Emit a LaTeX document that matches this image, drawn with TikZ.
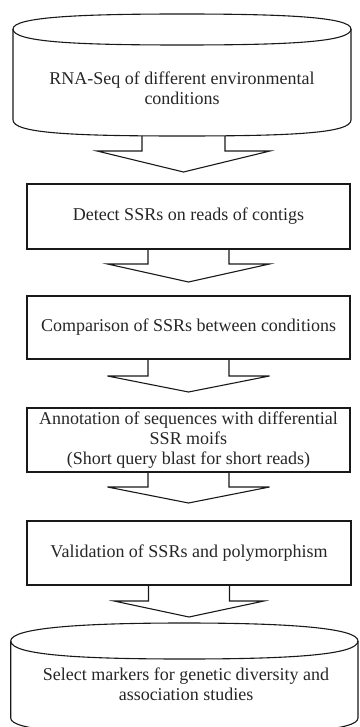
\documentclass[tikz,border=0pt]{standalone}
\usepackage{fontspec}
\setmainfont{Liberation Serif}
\usetikzlibrary{calc}
\tikzset{
  ln/.style={draw=black!90, line width=1.1pt, line join=miter},
  txt/.style={align=center, inner sep=2pt, outer sep=0pt, text=black!85, font=\fontsize{18}{20}\selectfont},
  box/.style={txt, ln, rectangle, minimum width=323pt},
  pics/barrow/.style n args={4}{code={
    \draw[ln] (-#1,0) -- (-#1,#2) -- (-#3,#2) -- (0,#4) -- (#3,#2) -- (#1,#2) -- (#1,0);
  }}
}
\begin{document}
\begin{tikzpicture}[x=1pt,y=-1pt]
\useasboundingbox (0,0) rectangle (359,727);
% top cylinder
\draw[ln] (13,29) .. controls (13,17) and (80,14) .. (182,14) .. controls (284,14) and (351,17) .. (351,29)
  -- (351,120) .. controls (351,133) and (294,136) .. (182,136) .. controls (70,136) and (13,133) .. (13,120) -- cycle;
\draw[ln] (13,29) .. controls (13,42) and (75,45) .. (182,45) .. controls (289,45) and (351,42) .. (351,29);
\node[txt] (c1) at (182,88) {RNA-Seq of different environmental\\conditions};
\coordinate (c1s) at (183.5,136);
% boxes
\node[box, minimum height=65pt] (b2) at (188.5,216.5) {Detect SSRs on reads of contigs};
\node[box, minimum height=63pt] (b3) at (188.5,327.5) {Comparison of SSRs between conditions};
\node[box, minimum height=64pt] (b4) at (188.5,440) {Annotation of sequences with differential\\SSR moifs\\(Short query blast for short reads)};
\node[box, minimum height=64pt, minimum width=324pt] (b5) at (189,553) {Validation of SSRs and polymorphism};
% bottom cylinder
\draw[ln] (10.7,641) .. controls (10.7,628) and (80,623) .. (184.3,623) .. controls (289,623) and (358,628) .. (358,641)
  -- (358,718) .. controls (358,731) and (289,734) .. (184.3,734) .. controls (80,734) and (10.7,731) .. (10.7,718) -- cycle;
\draw[ln] (10.7,641) .. controls (10.7,655) and (80,659) .. (184.3,659) .. controls (289,659) and (358,655) .. (358,641);
\node[txt] (c6) at (186,684) {Select markers for genetic diversity and\\association studies};
% block arrows
\pic at (c1s) {barrow={41.5}{15}{86.5}{36}};
\pic at (b2.south) {barrow={40.5}{15}{81}{33}};
\pic at (b3.south) {barrow={40.5}{17}{81}{33}};
\pic at (b4.south) {barrow={40.5}{15}{81}{31}};
\pic at (b5.south) {barrow={40.5}{16}{75}{32}};
\end{tikzpicture}
\end{document}
